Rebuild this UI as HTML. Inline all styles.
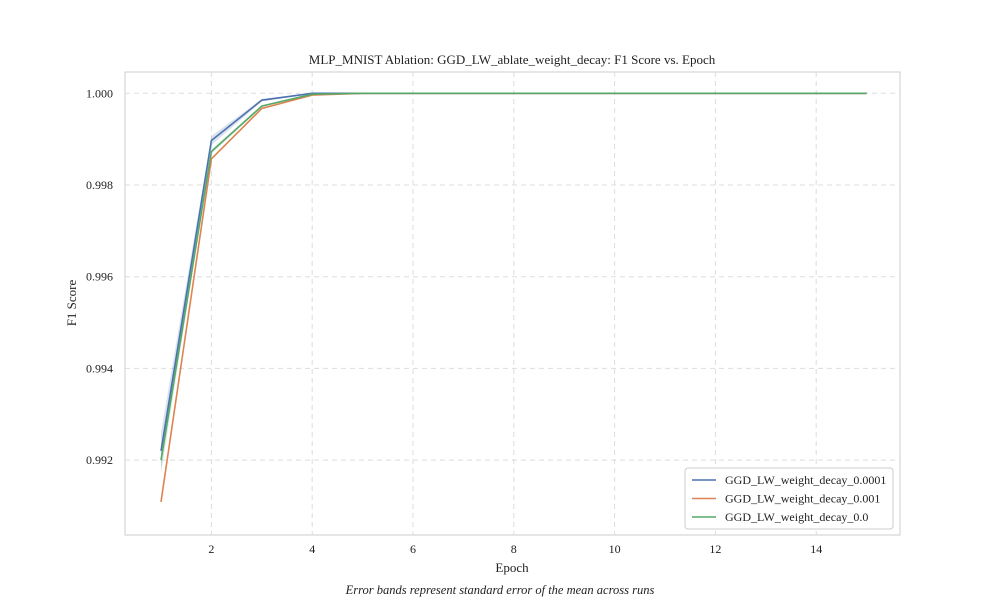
<!DOCTYPE html>
<html><head><meta charset="utf-8"><style>
body{margin:0;background:#fff;font-family:"Liberation Serif",serif;}
svg text{font-family:"Liberation Serif",serif;fill:#222;}
</style></head><body>
<svg id="chart" width="1000" height="600">
<text x="512" y="64" text-anchor="middle" font-size="13">MLP_MNIST Ablation: GGD_LW_ablate_weight_decay: F1 Score vs. Epoch</text>
<rect x="125" y="72" width="775" height="463" fill="none" stroke="#ccc"/>
<g id="grid"></g><g id="bands"></g><g id="lines"></g><g id="ticks"></g>
<text x="512" y="572" text-anchor="middle" font-size="13">Epoch</text>
<text transform="translate(76,303) rotate(-90)" text-anchor="middle" font-size="13">F1 Score</text>
<text x="500" y="594" text-anchor="middle" font-size="12.5" font-style="italic">Error bands represent standard error of the mean across runs</text>
<g id="legend">
<rect x="685" y="468" width="208" height="61" rx="3" fill="#fff" stroke="#ccc"/>
</g>
</svg>
<script>
const epochs=[1,2,3,4,5,6,7,8,9,10,11,12,13,14,15];
const seriesNames=["GGD_LW_weight_decay_0.0001","GGD_LW_weight_decay_0.001","GGD_LW_weight_decay_0.0"];
const colors=["#4c72b0","#dd8452","#55a868"];
const blueVals=[0.99220,0.99897,0.99985,1.0,1.0,1.0,1.0,1.0,1.0,1.0,1.0,1.0,1.0,1.0,1.0];
const orangeVals=[0.99109,0.99857,0.99967,0.99996,1.0,1.0,1.0,1.0,1.0,1.0,1.0,1.0,1.0,1.0,1.0];
const greenVals=[0.99200,0.99873,0.99972,0.99998,1.0,1.0,1.0,1.0,1.0,1.0,1.0,1.0,1.0,1.0,1.0];
const blueErr=[0.0004,0.0001,0.00003,0,0,0,0,0,0,0,0,0,0,0,0];
const orangeErr=[0.0001,0.00003,0.00002,0,0,0,0,0,0,0,0,0,0,0,0];
const greenErr=[0.0003,0.00005,0.00002,0,0,0,0,0,0,0,0,0,0,0,0];
const xTicks=[2,4,6,8,10,12,14];
const yTicks=[0.992,0.994,0.996,0.998,1.000];
const NS="http://www.w3.org/2000/svg";
const X=e=>161+(e-1)*50.4;
const Y=v=>93.3+(1.0-v)*45850;
function mk(tag,attrs,parent){const el=document.createElementNS(NS,tag);for(const k in attrs)el.setAttribute(k,attrs[k]);document.getElementById(parent).appendChild(el);return el;}
xTicks.forEach(t=>{
 const l=mk("line",{x1:X(t),x2:X(t),y1:72,y2:535,stroke:"#ddd","stroke-dasharray":"5,4"},"grid");
 
 
 const tx=mk("text",{x:X(t),y:553,"text-anchor":"middle","font-size":"12"},"ticks");tx.textContent=t;
 
 
});
yTicks.forEach(t=>{
 const l=mk("line",{x1:125,x2:900,y1:Y(t),y2:Y(t),stroke:"#ddd","stroke-dasharray":"5,4"},"grid");
 
 
 const tx=mk("text",{x:113,y:Y(t)+4,"text-anchor":"end","font-size":"12"},"ticks");tx.textContent=t.toFixed(3);
 
 
});
const vals=[blueVals,orangeVals,greenVals],errs=[blueErr,orangeErr,greenErr];
vals.forEach((vs,i)=>{
 const up=epochs.map((e,j)=>X(e)+","+Y(vs[j]+errs[i][j]));
 const dn=epochs.map((e,j)=>X(e)+","+Y(vs[j]-errs[i][j])).reverse();
 const b=mk("polygon",{points:up.concat(dn).join(" "),fill:colors[i],"fill-opacity":"0.2",stroke:"none"},"bands");
 
 
});
vals.forEach((vs,i)=>{
 const p=mk("polyline",{points:epochs.map((e,j)=>X(e)+","+Y(vs[j])).join(" "),fill:"none",stroke:colors[i],"stroke-width":"1.6"},"lines");
 
 
});
seriesNames.forEach((n,i)=>{
 const y=480+i*18.5;
 const l=mk("line",{x1:692,x2:716,y1:y,y2:y,stroke:colors[i],"stroke-width":"1.6"},"legend");
 
 
 const t=mk("text",{x:725,y:y+4,"font-size":"12"},"legend");t.textContent=n;
 
 
});
</script>
</body></html>
